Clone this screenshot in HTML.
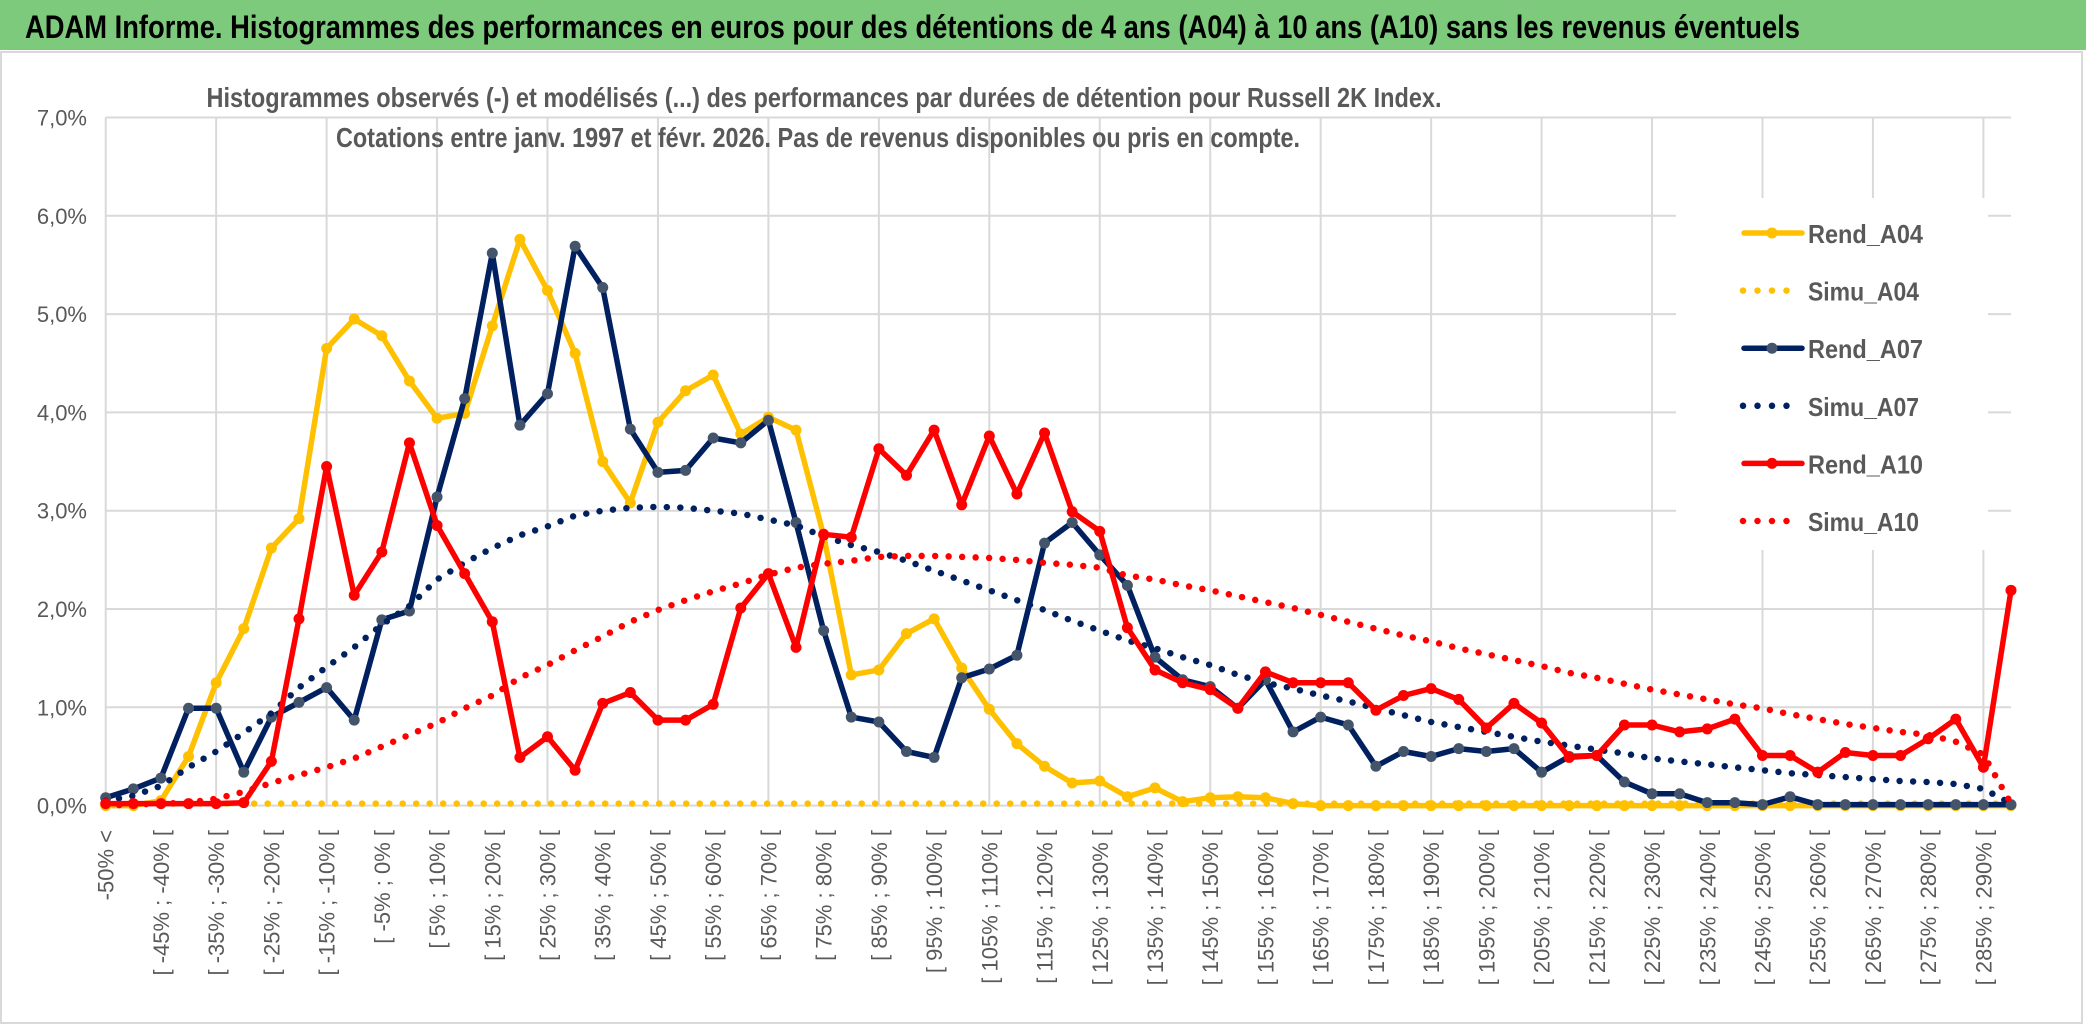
<!DOCTYPE html>
<html><head><meta charset="utf-8">
<style>
html,body{margin:0;padding:0;background:#fff;}
svg{display:block;font-family:"Liberation Sans",sans-serif;}
</style></head>
<body>
<svg id="chart" width="2086" height="1031" viewBox="0 0 2086 1031" xmlns="http://www.w3.org/2000/svg">
  <rect x="0" y="0" width="2086" height="1031" fill="#fff"/>
  <rect x="0" y="0" width="2086" height="50" fill="#7dca7d"/>
  <text x="25" y="38" font-size="32" font-weight="bold" fill="#000" textLength="1775" lengthAdjust="spacingAndGlyphs">ADAM Informe. Histogrammes des performances en euros pour des détentions de 4 ans (A04) à 10 ans (A10) sans les revenus éventuels</text>
  <rect x="1" y="52" width="2081" height="971" fill="none" stroke="#d9d9d9" stroke-width="2"/>
  <g id="grid"></g>
  <g id="yaxis"></g>
  <g id="xaxis"></g>
  <rect x="1676" y="198" width="312" height="352" fill="#fff"/>
  <text x="824" y="107" font-size="28" font-weight="600" fill="#595959" text-anchor="middle" textLength="1235" lengthAdjust="spacingAndGlyphs">Histogrammes observés (-) et modélisés (...) des performances par durées de détention pour Russell 2K Index.</text>
  <text x="818" y="147" font-size="28" font-weight="600" fill="#595959" text-anchor="middle" textLength="964" lengthAdjust="spacingAndGlyphs">Cotations entre janv. 1997 et févr. 2026. Pas de revenus disponibles ou pris en compte.</text>
  <g id="series"></g>
  <g id="legend"></g>
</svg>
<script>
const rendA04 = [0,0,0.05,0.5,1.25,1.8,2.62,2.92,4.65,4.95,4.78,4.32,3.94,3.99,4.88,5.76,5.24,4.6,3.5,3.08,3.9,4.22,4.38,3.78,3.95,3.82,2.75,1.33,1.38,1.75,1.9,1.4,0.98,0.63,0.4,0.23,0.25,0.09,0.18,0.04,0.08,0.09,0.08,0.02,0,0,0,0,0,0,0,0,0,0,0,0,0,0,0,0,0,0,0,0,0,0,0,0,0,0];
const simuA04 = [0.02,0.02,0.02,0.02,0.02,0.02,0.02,0.02,0.02,0.02,0.02,0.02,0.02,0.02,0.02,0.02,0.02,0.02,0.02,0.02,0.02,0.02,0.02,0.02,0.02,0.02,0.02,0.02,0.02,0.02,0.02,0.02,0.02,0.02,0.02,0.02,0.02,0.02,0.02,0.02,0.02,0.02,0.02,0.02,0.02,0.02,0.02,0.02,0.02,0.02,0.02,0.02,0.02,0.02,0.02,0.02,0.02,0.02,0.02,0.02,0.02,0.02,0.02,0.02,0.02,0.02,0.02,0.02,0.02,0.02];
const rendA07 = [0.08,0.17,0.28,0.99,0.99,0.34,0.90,1.05,1.20,0.87,1.89,1.98,3.14,4.14,5.62,3.87,4.19,5.69,5.27,3.83,3.39,3.41,3.74,3.69,3.92,2.88,1.78,0.90,0.85,0.55,0.49,1.30,1.39,1.53,2.67,2.88,2.55,2.24,1.51,1.28,1.21,0.99,1.28,0.75,0.90,0.82,0.40,0.55,0.50,0.58,0.55,0.58,0.34,0.50,0.51,0.24,0.12,0.12,0.03,0.03,0.01,0.09,0.01,0.01,0.01,0.01,0.01,0.01,0.01,0.01];
const simuA07 = [0.05,0.1,0.2,0.39,0.55,0.74,0.94,1.2,1.41,1.61,1.84,2.03,2.3,2.47,2.62,2.75,2.84,2.95,3.0,3.03,3.04,3.03,3.0,2.97,2.91,2.85,2.74,2.65,2.58,2.49,2.39,2.29,2.19,2.09,1.99,1.88,1.78,1.68,1.6,1.51,1.43,1.33,1.25,1.19,1.12,1.06,0.99,0.92,0.85,0.8,0.75,0.7,0.65,0.61,0.57,0.53,0.48,0.45,0.42,0.39,0.36,0.33,0.31,0.29,0.27,0.25,0.24,0.22,0.17,0.02];
const rendA10 = [0.02,0.02,0.02,0.02,0.02,0.03,0.45,1.90,3.45,2.14,2.58,3.69,2.85,2.36,1.87,0.49,0.70,0.36,1.04,1.15,0.87,0.87,1.03,2.01,2.36,1.61,2.76,2.73,3.63,3.36,3.82,3.06,3.76,3.17,3.79,2.99,2.79,1.81,1.38,1.25,1.18,0.99,1.36,1.25,1.25,1.25,0.97,1.12,1.19,1.08,0.79,1.04,0.84,0.49,0.51,0.82,0.82,0.75,0.78,0.88,0.51,0.51,0.34,0.54,0.51,0.51,0.68,0.88,0.39,2.19];
const simuA10 = [0,0.01,0.02,0.03,0.07,0.14,0.23,0.31,0.39,0.48,0.6,0.72,0.84,0.99,1.12,1.3,1.43,1.58,1.72,1.87,1.99,2.09,2.18,2.26,2.35,2.42,2.46,2.49,2.53,2.54,2.54,2.53,2.52,2.5,2.47,2.45,2.42,2.34,2.3,2.24,2.19,2.13,2.07,2.01,1.94,1.87,1.8,1.73,1.67,1.6,1.54,1.48,1.42,1.35,1.3,1.24,1.18,1.13,1.08,1.03,0.99,0.93,0.88,0.83,0.79,0.75,0.72,0.65,0.52,0.02];
const yTicks = [0,1,2,3,4,5,6,7];
const yTickLabels = ["0,0%","1,0%","2,0%","3,0%","4,0%","5,0%","6,0%","7,0%"];
const seriesNames = ["Rend_A04","Simu_A04","Rend_A07","Simu_A07","Rend_A10","Simu_A10"];

const categories = [];
for (let k = 0; k < 70; k++) {
  if (k === 0) categories.push("-50% <");
  else if (k === 69) categories.push("> 290%");
  else { const a = -55 + 5*k; categories.push("[ " + a + "% ; " + (a+5) + "% ["); }
}

const NS = "http://www.w3.org/2000/svg";
const X0 = 105.7, X1 = 2011, Y0 = 805.6, YTOP = 117.5, YMAX = 7;
const n = categories.length;
function xPos(i){ return X0 + i*(X1-X0)/(n-1); }
function yPos(v){ return Y0 - v*(Y0-YTOP)/YMAX; }
function mk(tag, attrs, parent){ const e = document.createElementNS(NS, tag); for (const k in attrs) e.setAttribute(k, attrs[k]); parent.appendChild(e); return e; }

const grid = document.getElementById("grid");
yTicks.forEach(t => {
  const l = mk("line", {x1:X0, x2:X1, y1:yPos(t), y2:yPos(t), stroke:"#d9d9d9", "stroke-width":2}, grid);
  
  
});
for (let i = 0; i < n; i += 4) {
  const l = mk("line", {x1:xPos(i), x2:xPos(i), y1:YTOP, y2:Y0, stroke:"#d9d9d9", "stroke-width":2}, grid);
  
  
}

const yaxis = document.getElementById("yaxis");
yTicks.forEach((t, j) => {
  const tx = mk("text", {x:87, y:yPos(t)+8, "font-size":22, fill:"#595959", "text-anchor":"end"}, yaxis);
  tx.textContent = yTickLabels[j];
  
  
});

const xaxis = document.getElementById("xaxis");
for (let i = 0; i < n; i += 2) {
  const x = xPos(i) + 8, y = 830;
  const tx = mk("text", {x:x, y:y, "font-size":22, fill:"#595959", "text-anchor":"end", transform:"rotate(-90 "+x+" "+y+")"}, xaxis);
  tx.textContent = categories[i];
  
  
}

const series = document.getElementById("series");
function drawLine(vals, color, markerColor, name){
  const pts = vals.map((v,i) => xPos(i).toFixed(1)+","+yPos(v).toFixed(1)).join(" ");
  const g = mk("g", {}, series);
  
  
  const pl = mk("polyline", {points:pts, fill:"none", stroke:color, "stroke-width":5.5, "stroke-linejoin":"round", "stroke-linecap":"round"}, g);
  
  
  vals.forEach((v,i) => {
    const c = mk("circle", {cx:xPos(i), cy:yPos(v), r:5.5, fill:markerColor}, g);
    
    
  });
}
function drawDotted(vals, color, name){
  const pts = vals.map((v,i) => xPos(i).toFixed(1)+","+yPos(v).toFixed(1)).join(" ");
  const pl = mk("polyline", {points:pts, fill:"none", stroke:color, "stroke-width":6.5, "stroke-linecap":"round", "stroke-dasharray":"0 13.5"}, series);
  
  
}
drawLine(rendA04, "#ffc000", "#ffc000", "rend-a04");
drawDotted(simuA04, "#ffc000", "simu-a04");
drawLine(rendA07, "#002060", "#44546a", "rend-a07");
drawDotted(simuA07, "#002060", "simu-a07");
drawLine(rendA10, "#ff0000", "#ff0000", "rend-a10");
drawDotted(simuA10, "#ff0000", "simu-a10");

const legend = document.getElementById("legend");
const legColors = ["#ffc000","#ffc000","#002060","#002060","#ff0000","#ff0000"];
const legMarker = ["#ffc000",null,"#44546a",null,"#ff0000",null];
seriesNames.forEach((nm, j) => {
  const y = 233 + j*57.6;
  const g = mk("g", {}, legend);
  
  
  if (legMarker[j]) {
    mk("line", {x1:1744, x2:1802, y1:y, y2:y, stroke:legColors[j], "stroke-width":5.5, "stroke-linecap":"round"}, g);
    mk("circle", {cx:1772, cy:y, r:5.5, fill:legMarker[j]}, g);
  } else {
    mk("line", {x1:1743, x2:1800, y1:y, y2:y, stroke:legColors[j], "stroke-width":6.5, "stroke-linecap":"round", "stroke-dasharray":"0 14.5"}, g);
  }
  const tx = mk("text", {x:1808, y:y+10, "font-size":26, "font-weight":"bold", fill:"#595959", textLength: (nm.indexOf("Simu")===0?111:115), lengthAdjust:"spacingAndGlyphs"}, g);
  tx.textContent = nm;
  
  
});
</script>
</body></html>
